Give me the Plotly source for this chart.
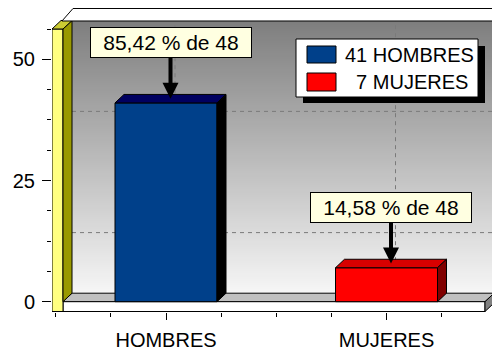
import plotly.graph_objects as go

# ---- data ----
categories = ["HOMBRES", "MUJERES"]
values = [41, 7]
front_colors = ["#00408a", "#ff0000"]
top_colors = ["#000060", "#d80000"]
side_colors = ["#000000", "#800000"]
y_tick_vals = [0, 25, 50]
y_grid_vals = [12.5, 37.5]

total = sum(values)

# ---- geometry (page pixels of the 500x352 window; the page body adds an 8px offset) ----
OFF = 8
W, H = 500 - OFF, 352 - OFF
PLOT_L, PLOT_R, PLOT_T, PLOT_B = 52, 500, 8, 312     # page pixels
ML, MR, MT, MB = PLOT_L - OFF, 500 - PLOT_R, PLOT_T - OFF, 352 - PLOT_B
X_PER = 220.5      # px per category
X0_PX = 166.0      # page px of first category centre
Y_PER = 4.848      # px per y unit
Y0_PX = 301.7      # page px of y = 0


def X(px):
    return (px - X0_PX) / X_PER


def Y(py):
    return (Y0_PX - py) / Y_PER


def PX(px):
    return (px - PLOT_L) / (PLOT_R - PLOT_L)


def PY(py):
    return (PLOT_B - py) / (PLOT_B - PLOT_T)


x_range = [X(PLOT_L), X(PLOT_R)]
y_range = [Y(PLOT_B), Y(PLOT_T)]

DX = 9 / X_PER
DY = 8.5 / Y_PER
BAR_W = 102 / X_PER
FONT = "Arial, 'Liberation Sans', sans-serif"
GRID_DASH = "4px,4px"


def path(pts):
    return "M " + " L ".join(f"{x:.5f},{y:.5f}" for x, y in pts) + " Z"


def pshape(pts, fill, layer="below", lw=1, lc="black", ref="x"):
    return dict(type="path", xref=ref if ref == "x" else "paper", yref="y" if ref == "x" else "paper",
                path=path(pts), fillcolor=fill, line=dict(color=lc, width=lw), layer=layer)


def seg(x0, y0, x1, y1, color="#7a7a7a", dash=GRID_DASH, layer="below"):
    return dict(type="line", xref="x", yref="y", x0=x0, y0=y0, x1=x1, y1=y1,
                line=dict(color=color, width=1, dash=dash), layer=layer)


def mix(c0, c1, t):
    a = [int(c0[i:i + 2], 16) for i in (1, 3, 5)]
    b = [int(c1[i:i + 2], 16) for i in (1, 3, 5)]
    return "#" + "".join(f"{round(a[k] + (b[k] - a[k]) * t):02x}" for k in range(3))


shapes = []
# back wall vertical gradient (thin strips)
WALL_TOP, WALL_BOT, WALL_L, WALL_R = 21, 293, 72, 493
STEP = 2
n = (WALL_BOT - WALL_TOP) // STEP
for k in range(n):
    y0p = WALL_TOP + k * STEP
    t = (k + 0.5) / n
    shapes.append(dict(type="rect", xref="x", yref="y", x0=X(WALL_L), x1=X(WALL_R),
                       y0=Y(y0p), y1=Y(min(y0p + STEP + 0.6, WALL_BOT)),
                       fillcolor=mix("#7e7e7e", "#f6f6f6", t), line=dict(width=0), layer="below"))

# dashed grid lines on back wall
for g in y_grid_vals:
    shapes.append(seg(X(63), g, X(72), g + DY))
    shapes.append(seg(X(72), g + DY, X(WALL_R), g + DY))
for i in range(len(categories)):
    shapes.append(seg(i + DX, DY, i + DX, Y(WALL_TOP)))

# floor
shapes.append(pshape([(X(63), 0), (X(485), 0), (X(485) + DX, DY), (X(63) + DX, DY)], "#c0c0c0"))
shapes.append(pshape([(X(63), 0), (X(485), 0), (X(485), Y(311.5)), (X(63), Y(311.5))], "white"))
shapes.append(pshape([(X(485), 0), (X(485) + DX, DY), (X(485) + DX, Y(303)), (X(485), Y(311.5))], "#808080"))
# yellow wall
shapes.append(pshape([(X(52), Y(29)), (X(63), Y(29)), (X(63), Y(311.5)), (X(52), Y(311.5))], "#ffff80"))
shapes.append(pshape([(X(63), Y(29)), (X(63) + DX, Y(29) + DY), (X(63) + DX, DY), (X(63), 0)], "#999900"))
shapes.append(pshape([(X(52), Y(29)), (X(52) + DX, Y(29) + DY), (X(63) + DX, Y(29) + DY), (X(63), Y(29))],
                     "#cccc33"))
# top strip (paper-referenced so it is not clipped)
shapes.append(pshape([(PX(62), PY(21)), (PX(73), PY(8.5)), (PX(500), PY(8.5)), (PX(500), PY(11)),
                      (PX(493), PY(21))], "white", layer="above", ref="paper"))
# wall right border
shapes.append(seg(X(WALL_R), Y(WALL_TOP), X(WALL_R), Y(WALL_BOT), color="black", dash="solid", layer="above"))

# bar 3D faces
for i, v in enumerate(values):
    xl, xr = i - BAR_W / 2, i + BAR_W / 2
    shapes.append(pshape([(xl, v), (xr, v), (xr + DX, v + DY), (xl + DX, v + DY)], top_colors[i], "above"))
    shapes.append(pshape([(xr, 0), (xr, v), (xr + DX, v + DY), (xr + DX, DY)], side_colors[i], "above"))

# legend box (shadow + box + swatches)
shapes.append(dict(type="rect", xref="x", yref="y", x0=X(303), x1=X(485), y0=Y(46), y1=Y(103),
                   fillcolor="black", line=dict(width=0), layer="above"))
shapes.append(dict(type="rect", xref="x", yref="y", x0=X(296), x1=X(478), y0=Y(39), y1=Y(97),
                   fillcolor="white", line=dict(color="black", width=1), layer="above"))
legend_rows = [(46, 63), (73, 91)]
annotations = []
for i, (c, v) in enumerate(zip(categories, values)):
    t, b = legend_rows[i]
    shapes.append(dict(type="rect", xref="x", yref="y", x0=X(307), x1=X(336), y0=Y(t), y1=Y(b),
                       fillcolor=front_colors[i], line=dict(color="black", width=1), layer="above"))
    annotations.append(dict(x=X(343), y=Y((t + b) / 2), xref="x", yref="y", showarrow=False,
                            xanchor="left", yanchor="middle",
                            text=str(v).rjust(2, "\u2007") + " " + c,
                            font=dict(family=FONT, size=20, color="black")))

# percentage labels with arrows
for i, v in enumerate(values):
    pct = f"{v / total * 100:.2f}".replace(".", ",")
    annotations.append(dict(
        x=i + DX / 2, y=v + DY / 2, xref="x", yref="y",
        text=f"{pct} % de {total}", showarrow=True, ax=0, ay=-56,
        arrowhead=2, arrowsize=0.8, arrowwidth=4, arrowcolor="black",
        bgcolor="#ffffe1", bordercolor="black", borderwidth=1, borderpad=1,
        width=158, height=27, font=dict(family=FONT, size=21, color="black")))

fig = go.Figure()
# bars (front faces)
fig.add_trace(go.Bar(
    x=list(range(len(categories))), y=values, width=BAR_W,
    marker=dict(color=front_colors, line=dict(color="black", width=1)),
    hoverinfo="skip", showlegend=False))

fig.update_layout(
    width=W, height=H, margin=dict(l=ML, r=MR, t=MT, b=MB, autoexpand=False),
    paper_bgcolor="white", plot_bgcolor="white",
    shapes=shapes, annotations=annotations, showlegend=False,
    font=dict(family=FONT, size=20, color="black"),
    xaxis=dict(range=x_range, tickvals=list(range(len(categories))), ticktext=categories,
               showgrid=False, zeroline=False, showline=False,
               ticks="outside", ticklen=7, tickcolor="black", tickwidth=1, ticklabelstandoff=3,
               minor=dict(ticks="outside", ticklen=4, dtick=0.25, tick0=0, tickcolor="black", showgrid=False),
               tickfont=dict(family=FONT, size=20, color="black")),
    yaxis=dict(range=y_range, tickvals=y_tick_vals, showgrid=False, zeroline=False, showline=False,
               ticks="outside", ticklen=9, tickcolor="black", tickwidth=1, ticklabelstandoff=3,
               minor=dict(ticks="outside", ticklen=4, dtick=6.25, tick0=0, tickcolor="black", showgrid=False),
               tickfont=dict(family=FONT, size=20, color="black")),
)

fig.write_html("out.html")
